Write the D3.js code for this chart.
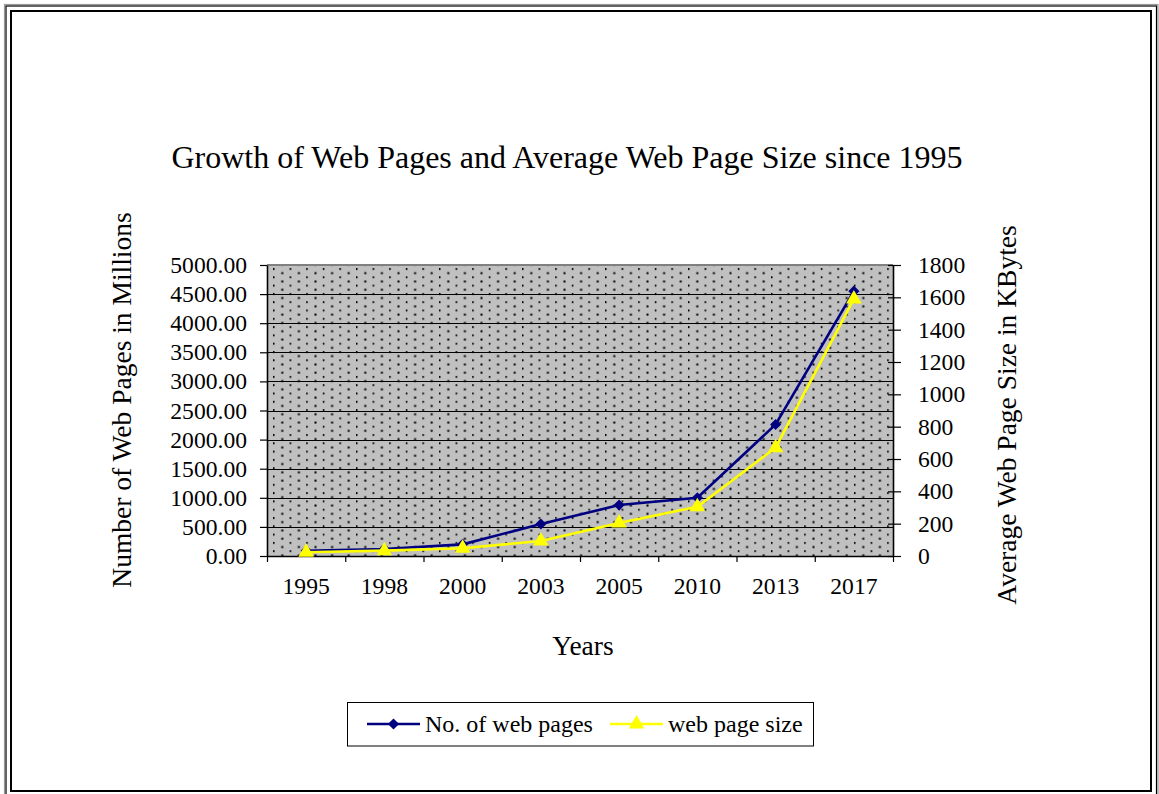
<!DOCTYPE html>
<html>
<head>
<meta charset="utf-8">
<script src="https://cdn.jsdelivr.net/npm/d3@7/dist/d3.min.js"></script>
<style>
  html, body { margin: 0; padding: 0; background: #fff; }
  svg { display: block; }
  text { font-family: "Liberation Serif", "Times New Roman", serif; fill: #000; }
</style>
</head>
<body>
<svg id="chart" width="1159" height="794"></svg>
<script>
// Growth of web pages (millions) and average page size (KB)
const years = ["1995", "1998", "2000", "2003", "2005", "2010", "2013", "2017"];
const webPages = [90, 120, 200, 550, 875, 1000, 2260, 4550];
const pageSize = [23, 33, 48, 93, 204, 305, 670, 1590];
const leftTicks = [0, 500, 1000, 1500, 2000, 2500, 3000, 3500, 4000, 4500, 5000];
const rightTicks = [0, 200, 400, 600, 800, 1000, 1200, 1400, 1600, 1800];
const seriesNames = ["No. of web pages", "web page size"];

const svg = d3.select("#chart");
const plot = { left: 267, right: 893, top: 265, bottom: 556 };

// page frame: double outer rule plus inner rule
svg.append("rect").attr("x", 4.5).attr("y", 4.5).attr("width", 1153.5).attr("height", 800)
  .attr("fill", "none").attr("stroke", "#9a9a9a").attr("stroke-width", 1.2);
svg.append("rect").attr("x", 6).attr("y", 6).attr("width", 1150.5).attr("height", 800)
  .attr("fill", "none").attr("stroke", "#000").attr("stroke-width", 1.2);
svg.append("rect").attr("x", 11).attr("y", 11).attr("width", 1140).attr("height", 780)
  .attr("fill", "none").attr("stroke", "#000").attr("stroke-width", 2);

// dotted plot-area fill
const defs = svg.append("defs");
const pat = defs.append("pattern").attr("id", "dots")
  .attr("patternUnits", "userSpaceOnUse")
  .attr("x", plot.left + 6).attr("y", plot.top + 3)
  .attr("width", 16.6).attr("height", 8.3);
pat.append("rect").attr("width", 16.6).attr("height", 8.3).attr("fill", "#c0c0c0");
pat.append("rect").attr("x", 0).attr("y", 0).attr("width", 1.5).attr("height", 2).attr("fill", "#000");
pat.append("rect").attr("x", 8.3).attr("y", 4.15).attr("width", 2).attr("height", 2).attr("fill", "#000");

const x = d3.scaleBand().domain(years).range([plot.left, plot.right]);
const xb = d3.scaleLinear().domain([0, years.length]).range([plot.left, plot.right]);
const yL = d3.scaleLinear().domain([0, 5000]).range([plot.bottom, plot.top]);
const yR = d3.scaleLinear().domain([0, 1800]).range([plot.bottom, plot.top]);
const cx = d => x(d) + x.bandwidth() / 2;

svg.append("rect").attr("x", plot.left).attr("y", plot.top)
  .attr("width", plot.right - plot.left).attr("height", plot.bottom - plot.top)
  .attr("fill", "url(#dots)");

// horizontal gridlines at left-axis ticks
svg.append("g").selectAll("line").data(leftTicks.filter(v => v > 0 && v < 5000)).join("line")
  .attr("x1", plot.left).attr("x2", plot.right)
  .attr("y1", d => Math.round(yL(d)) + 0.5).attr("y2", d => Math.round(yL(d)) + 0.5)
  .attr("stroke", "#000").attr("stroke-width", 1);

// top border of plot area
svg.append("line").attr("x1", plot.left).attr("x2", plot.right)
  .attr("y1", plot.top).attr("y2", plot.top)
  .attr("stroke", "#808080").attr("stroke-width", 2);

const tickFont = "23.6px";

// left axis
const gL = svg.append("g").attr("transform", `translate(${plot.left},0)`)
  .call(d3.axisLeft(yL).tickValues(leftTicks).tickFormat(d3.format(".2f"))
    .tickSizeInner(7).tickSizeOuter(0).tickPadding(13));
// right axis
const gR = svg.append("g").attr("transform", `translate(${plot.right},0)`)
  .call(d3.axisRight(yR).tickValues(rightTicks).tickFormat(d3.format("d"))
    .tickSizeInner(8).tickSizeOuter(0).tickPadding(17));
gR.selectAll(".tick line").attr("x1", -5);
// bottom axis: labels centred in categories, ticks on category boundaries
const gB = svg.append("g").attr("transform", `translate(0,${plot.bottom})`)
  .call(d3.axisBottom(x).tickSize(0).tickPadding(21));
gB.select(".domain").remove();
const gBt = svg.append("g").attr("transform", `translate(0,${plot.bottom})`)
  .call(d3.axisBottom(xb).ticks(years.length).tickSizeInner(6).tickSizeOuter(0).tickFormat(""));

[gL, gR, gB, gBt].forEach(g => {
  g.selectAll("text").style("font-size", tickFont)
    .style("font-family", '"Liberation Serif", "Times New Roman", serif').attr("fill", "#000");
  g.selectAll("line").attr("stroke", "#000").attr("stroke-width", 1.2);
  g.select(".domain").attr("stroke", "#000").attr("stroke-width", 1.6);
});

// series lines
const lineL = d3.line().x((d, i) => cx(years[i])).y(d => yL(d));
const lineR = d3.line().x((d, i) => cx(years[i])).y(d => yR(d));
const navy = "#000080", yellow = "#ffff00";

// diamond marker = square turned 45 degrees
const diamond = d3.symbol().type(d3.symbolSquare).size(62);
const triangle = d3.symbol().type(d3.symbolTriangle).size(105);

svg.append("path").datum(webPages).attr("d", lineL)
  .attr("fill", "none").attr("stroke", navy).attr("stroke-width", 2.6);
svg.append("g").selectAll("path").data(webPages).join("path")
  .attr("d", diamond)
  .attr("transform", (d, i) => `translate(${cx(years[i])},${yL(d)}) rotate(45)`)
  .attr("fill", navy);

svg.append("path").datum(pageSize).attr("d", lineR)
  .attr("fill", "none").attr("stroke", yellow).attr("stroke-width", 2.6);
svg.append("g").selectAll("path").data(pageSize).join("path")
  .attr("d", triangle)
  .attr("transform", (d, i) => `translate(${cx(years[i])},${yR(d)})`)
  .attr("fill", yellow);

// titles
svg.append("text").attr("x", 567).attr("y", 168).attr("text-anchor", "middle")
  .style("font-size", "32px").text("Growth of Web Pages and Average Web Page Size since 1995");
svg.append("text").attr("transform", "translate(131,400) rotate(-90)").attr("text-anchor", "middle")
  .style("font-size", "27.5px").text("Number of Web Pages in Millions");
svg.append("text").attr("transform", "translate(1016,415) rotate(-90)").attr("text-anchor", "middle")
  .style("font-size", "27.5px").text("Average Web Page Size in KBytes");
svg.append("text").attr("x", 583).attr("y", 655).attr("text-anchor", "middle")
  .style("font-size", "27.5px").text("Years");

// legend
const lg = svg.append("g");
lg.append("rect").attr("x", 347.5).attr("y", 702.5).attr("width", 466).attr("height", 43.5)
  .attr("fill", "#fff").attr("stroke", "#000").attr("stroke-width", 1);
const legendItems = [
  { name: seriesNames[0], color: navy, sym: diamond, x0: 367, rot: 45 },
  { name: seriesNames[1], color: yellow, sym: triangle, x0: 610, rot: 0 }
];
legendItems.forEach(it => {
  lg.append("line").attr("x1", it.x0).attr("x2", it.x0 + 53).attr("y1", 724).attr("y2", 724)
    .attr("stroke", it.color).attr("stroke-width", 2.6);
  lg.append("path").attr("d", it.sym)
    .attr("transform", `translate(${it.x0 + 26.5},724) rotate(${it.rot})`).attr("fill", it.color);
  lg.append("text").attr("x", it.x0 + 58).attr("y", 732).style("font-size", "24px").text(it.name);
});
</script>
</body>
</html>
